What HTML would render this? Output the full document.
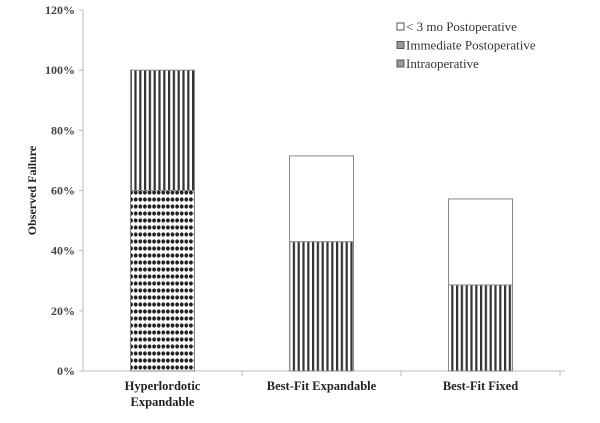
<!DOCTYPE html>
<html><head><meta charset="utf-8"><style>
html,body{margin:0;padding:0;background:#fff;}
svg{display:block;font-family:"Liberation Serif",serif;}
</style></head><body>
<svg id="chart" width="600" height="423" viewBox="0 0 600 423" xmlns="http://www.w3.org/2000/svg">
<defs>
<pattern id="stripes" patternUnits="userSpaceOnUse" width="4.8" height="10">
<rect width="4.8" height="10" fill="#fff"/><rect x="0" width="2.2" height="10" fill="#333"/>
</pattern>
<pattern id="dots" patternUnits="userSpaceOnUse" width="4.6" height="7">
<rect width="4.6" height="7" fill="#fff"/><ellipse cx="2.3" cy="3.5" rx="1.9" ry="2.1" fill="#222"/>
</pattern>
</defs>
<g id="plot"></g>
</svg>
<script>
const categories=[["Hyperlordotic","Expandable"],["Best-Fit Expandable"],["Best-Fit Fixed"]];
const intraop=[60,0,0];
const immediate=[40,43,28.6];
const late=[0,28.5,28.6];
const yTicks=[0,20,40,60,80,100,120];
const seriesNames=["< 3 mo Postoperative","Immediate Postoperative","Intraoperative"];

const NS="http://www.w3.org/2000/svg";
const g=document.getElementById('plot');
const x0=83,x1=560,yBase=371,yTop=10,yMax=120;
const y=v=>yBase-(v/yMax)*(yBase-yTop);
const band=(x1-x0)/categories.length;
const xc=i=>x0+band*(i+0.5);
const bw=64;
function mk(tag,attrs){const e=document.createElementNS(NS,tag);for(const k in attrs)e.setAttribute(k,attrs[k]);g.appendChild(e);return e;}

let ax=mk('line',{x1:x0,y1:yTop,x2:x0,y2:yBase,stroke:'#bbb','stroke-width':1});


let bx=mk('line',{x1:x0-4,y1:yBase,x2:x1+5,y2:yBase,stroke:'#bbb','stroke-width':1});


yTicks.forEach(t=>{
  let tk=mk('line',{x1:x0-4,y1:y(t),x2:x0,y2:y(t),stroke:'#bbb'});
  
  
  let tx=mk('text',{x:x0-8,y:y(t)+4,'text-anchor':'end','font-size':12,'font-weight':'bold',fill:'#444'});
  tx.textContent=t+'%';
  
  
});
for(let i=1;i<=categories.length;i++){
  let tk=mk('line',{x1:x0+band*i,y1:yBase,x2:x0+band*i,y2:yBase+5,stroke:'#bbb'});
  
  
}
let yt=mk('text',{x:0,y:0,transform:'translate(36,'+y(60)+') rotate(-90)','text-anchor':'middle','font-size':12,'font-weight':'bold',fill:'#222'});
yt.textContent='Observed Failure';



categories.forEach((c,i)=>{
  const segs=[[intraop[i],'url(#dots)','intraoperative'],[immediate[i],'url(#stripes)','immediate-postoperative'],[late[i],'#fff','late-postoperative']];
  let acc=0;
  segs.forEach(s=>{
    if(s[0]<=0)return;
    const r=mk('rect',{x:xc(i)-bw/2,y:y(acc+s[0]),width:bw,height:y(acc)-y(acc+s[0]),fill:s[1],stroke:'#888','stroke-width':1});
    
    
    acc+=s[0];
  });
  c.forEach((line,j)=>{
    const t=mk('text',{x:xc(i),y:390+j*16,'text-anchor':'middle','font-size':12.5,'font-weight':'bold',fill:'#222'});
    t.textContent=line;
    
    
  });
});

const fills=['#fff','#999','#999'];
seriesNames.forEach((n,k)=>{
  const ly=31+k*18.5;
  const r=mk('rect',{x:397,y:ly-8,width:7,height:7,fill:fills[k],stroke:'#555','stroke-width':1});
  
  
  const t=mk('text',{x:406,y:ly,'font-size':13,fill:'#333'});
  t.textContent=n;
  
  
});
</script>
</body></html>
